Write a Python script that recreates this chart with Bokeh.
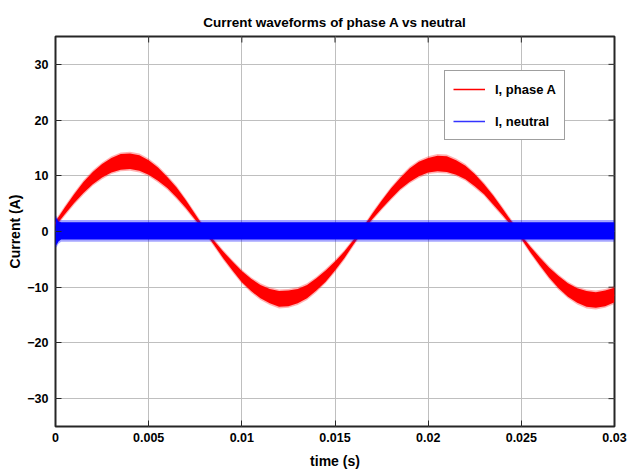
from bokeh.plotting import figure
from bokeh.models import Range1d, FixedTicker, Legend, LegendItem, ColumnDataSource
from bokeh.embed import file_html
from bokeh.resources import INLINE
import math

# ---- data ----
t_step = 0.0005
phase_a_mid = [1.4, 3.7, 5.9, 7.9, 9.6, 10.9, 11.9, 12.5, 12.6, 12.3, 11.5, 10.3, 8.8, 7.0, 4.9, 2.6, 0.3,
               -2.0, -4.2, -6.2, -8.1, -9.6, -10.8, -11.6, -12.1, -12.0, -11.6, -10.8, -9.5, -8.0, -6.2, -4.2, -1.9,
               0.4, 2.7, 4.8, 6.8, 8.6, 10.1, 11.2, 11.9, 12.2, 12.1, 11.5, 10.6, 9.2, 7.6, 5.6, 3.5, 1.3,
               -1.0, -3.3, -5.4, -7.4, -9.1, -10.5, -11.5, -12.1, -12.3, -12.0, -11.4]
phase_a_ripple = [0.4, 0.6, 0.8, 1.0, 1.1, 1.2, 1.3, 1.4, 1.4, 1.4, 1.3, 1.2, 1.0, 0.9, 0.7, 0.5, 0.3,
                  0.4, 0.6, 0.8, 1.0, 1.1, 1.2, 1.3, 1.4, 1.4, 1.3, 1.2, 1.1, 1.0, 0.8, 0.6, 0.4,
                  0.3, 0.5, 0.7, 0.9, 1.0, 1.2, 1.3, 1.3, 1.4, 1.4, 1.3, 1.2, 1.1, 0.9, 0.8, 0.6, 0.4,
                  0.3, 0.5, 0.7, 0.9, 1.1, 1.2, 1.3, 1.4, 1.4, 1.4, 1.3]
t_phase = [round(i * t_step, 6) for i in range(len(phase_a_mid))]

neutral_t = [0.0, 0.00008, 0.00016, 0.0003, 0.03]
neutral_hi = [2.6, 2.2, 1.8, 1.65, 1.65]
neutral_lo = [-2.5, -2.3, -1.8, -1.45, -1.45]
neutral_mid = [0.1, 0.1, 0.1, 0.1, 0.1]

x_ticks = [0, 0.005, 0.01, 0.015, 0.02, 0.025, 0.03]
x_tick_labels = ["0", "0.005", "0.01", "0.015", "0.02", "0.025", "0.03"]
y_ticks = [-30, -20, -10, 0, 10, 20, 30]
x_min, x_max = 0, 0.03
y_min, y_max = -35, 35

FONT = "Liberation Sans"
DARK = "#262626"

red_src = ColumnDataSource(dict(
    t=t_phase, mid=phase_a_mid,
    hi=[m + r for m, r in zip(phase_a_mid, phase_a_ripple)],
    lo=[m - r for m, r in zip(phase_a_mid, phase_a_ripple)],
    hi2=[m + r + 0.3 for m, r in zip(phase_a_mid, phase_a_ripple)],
    lo2=[m - r - 0.3 for m, r in zip(phase_a_mid, phase_a_ripple)],
))
blue_src = ColumnDataSource(dict(
    t=neutral_t, mid=neutral_mid, hi=neutral_hi, lo=neutral_lo,
    hi2=[v + 0.4 for v in neutral_hi], lo2=[v - 0.4 for v in neutral_lo],
))

p = figure(width=642, height=473, output_backend="svg", toolbar_location=None,
           x_range=Range1d(x_min, x_max), y_range=Range1d(y_min, y_max),
           min_border_left=55, min_border_right=28, min_border_top=36, min_border_bottom=47,
           title="Current waveforms of phase A vs neutral")
p.background_fill_color = "white"
p.border_fill_color = "white"
p.outline_line_color = DARK
p.outline_line_width = 2

p.title.text_font = FONT
p.title.text_font_size = "13.5px"
p.title.text_font_style = "bold"
p.title.align = "center"
p.title.vertical_align = "top"
p.title.text_color = "black"
p.title.standoff = 10

for ax in (p.xaxis[0], p.yaxis[0]):
    ax.axis_line_color = None
    ax.major_tick_in = 6
    ax.major_tick_out = 0
    ax.major_tick_line_color = DARK
    ax.minor_tick_line_color = None
    ax.major_label_text_font = FONT
    ax.major_label_text_font_style = "bold"
    ax.major_label_text_font_size = "12.5px"
    ax.major_label_text_color = "black"
    ax.axis_label_text_font = FONT
    ax.axis_label_text_font_style = "bold"
    ax.axis_label_text_font_size = "14px"
    ax.axis_label_text_color = "black"

p.xaxis[0].ticker = FixedTicker(ticks=x_ticks)
p.xaxis[0].major_label_overrides = dict(zip(x_ticks, x_tick_labels))
p.xaxis[0].axis_label = "time (s)"
p.xaxis[0].major_label_standoff = 6
p.xaxis[0].axis_label_standoff = 8
p.yaxis[0].ticker = FixedTicker(ticks=y_ticks)
p.yaxis[0].axis_label = "Current (A)"
p.yaxis[0].major_label_standoff = 7
p.yaxis[0].axis_label_standoff = 1

p.xgrid.ticker = FixedTicker(ticks=x_ticks)
p.ygrid.ticker = FixedTicker(ticks=y_ticks)
p.grid.grid_line_color = "#bfbfbf"
p.grid.grid_line_width = 1

# inward tick marks on the right and top edges of the box (half of each dash is clipped)
p.scatter(x=[x_max] * len(y_ticks), y=y_ticks, marker="dash", size=12,
          line_color=DARK, line_width=1)
p.scatter(x=x_ticks, y=[y_max] * len(x_ticks), marker="dash", size=12, angle=math.pi / 2,
          line_color=DARK, line_width=1)

# phase A (red)
p.varea(x="t", y1="lo2", y2="hi2", source=red_src, fill_color="red", fill_alpha=0.3)
p.varea(x="t", y1="lo", y2="hi", source=red_src, fill_color="red", fill_alpha=1.0)
r_red = p.line(x="t", y="mid", source=red_src, line_color="red", line_width=1.5)

# neutral (blue)
r_blue = p.line(x="t", y="mid", source=blue_src, line_color="#3333ff", line_width=1.5)
p.varea(x="t", y1="lo2", y2="hi2", source=blue_src, fill_color="blue", fill_alpha=0.35)
p.varea(x="t", y1="lo", y2="hi", source=blue_src, fill_color="blue", fill_alpha=1.0)

legend = Legend(items=[LegendItem(label="I, phase A", renderers=[r_red]),
                       LegendItem(label="I, neutral", renderers=[r_blue])],
                location=(389, 286), margin=0, padding=8, spacing=12,
                glyph_width=32, glyph_height=20, label_height=20, label_standoff=10,
                label_text_font=FONT, label_text_font_style="bold", label_text_font_size="13px",
                label_text_color="black",
                border_line_color="#404040", border_line_width=1,
                background_fill_color="white", background_fill_alpha=1.0)
p.add_layout(legend)

open("out.html", "w").write(file_html(p, INLINE))
